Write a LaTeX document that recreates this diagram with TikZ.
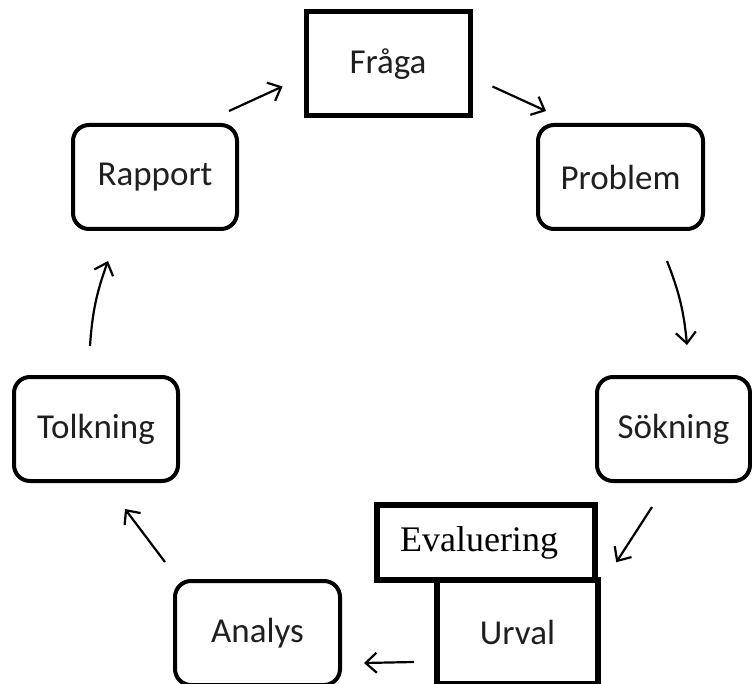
\documentclass[tikz,border=0pt]{standalone}
\usepackage{fontspec}
\setmainfont{Carlito}
\newfontfamily\serifx{Liberation Serif}
\usetikzlibrary{arrows.meta}
\definecolor{txt}{gray}{0.12}
\begin{document}
\begin{tikzpicture}[x=1pt,y=-1pt,
  rbox/.style={draw, line width=4pt, rounded corners=16pt, fill=white, text=txt,
    minimum width=164pt, minimum height=104pt, font=\fontsize{35}{40}\selectfont, inner sep=0pt},
  sbox/.style={draw, line width=5pt, fill=white, text=txt,
    minimum width=164pt, minimum height=104pt, font=\fontsize{35}{40}\selectfont, inner sep=0pt},
  arr/.style={line width=2.2pt, -{Straight Barb[length=11pt,width=20pt,line width=2.2pt]}}
]
\useasboundingbox (0,0) rectangle (752,684);
\node[sbox] (fra) at (388,64) {Fråga};
\node[rbox] (rap) at (155,177) {\raisebox{-4pt}{Rapport}};
\node[rbox, minimum width=165pt] (prob) at (620.5,177) {\raisebox{-3pt}{Problem}};
\node[rbox, minimum width=153pt] (sok) at (673.5,429) {\raisebox{-3pt}{Sökning}};
\node[rbox] (tol) at (96,429) {\raisebox{-3pt}{Tolkning}};
\node[rbox, minimum width=165pt] (ana) at (257.5,633) {Analys};
\node[sbox, line width=6pt, minimum width=161pt] (urv) at (517.5,632) {Urval};
\node[sbox, line width=6.5pt, minimum width=218pt, minimum height=75pt,
  font=\serifx\fontsize{36}{40}\selectfont, text=black] (eva) at (486,542.5) {\raisebox{5pt}{\hspace{-14pt}Evaluering}};

\draw[arr] ([xshift=-10pt,yshift=12pt]rap.north east) -- ([xshift=-21pt,yshift=32pt]fra.south west);
\draw[arr] ([xshift=20pt,yshift=32pt]fra.south east) -- ([xshift=10pt,yshift=12pt]prob.north west);
\draw[arr] ([xshift=46.5pt,yshift=-30pt]prob.south) to[bend left=8] ([xshift=13.5pt,yshift=30pt]sok.north);
\draw[arr] ([xshift=-21.5pt,yshift=-24pt]sok.south) -- ([xshift=18pt,yshift=21pt]eva.south east);
\draw[arr] ([xshift=-20pt,yshift=-30pt]urv.west) -- ([xshift=22pt,yshift=-30pt]ana.east);
\draw[arr] ([xshift=-8pt,yshift=17pt]ana.north west) -- ([xshift=29pt,yshift=-26pt]tol.south);
\draw[arr] ([xshift=-6pt,yshift=29pt]tol.north) to[bend left=8] ([xshift=-47pt,yshift=-30pt]rap.south);
\end{tikzpicture}
\end{document}
